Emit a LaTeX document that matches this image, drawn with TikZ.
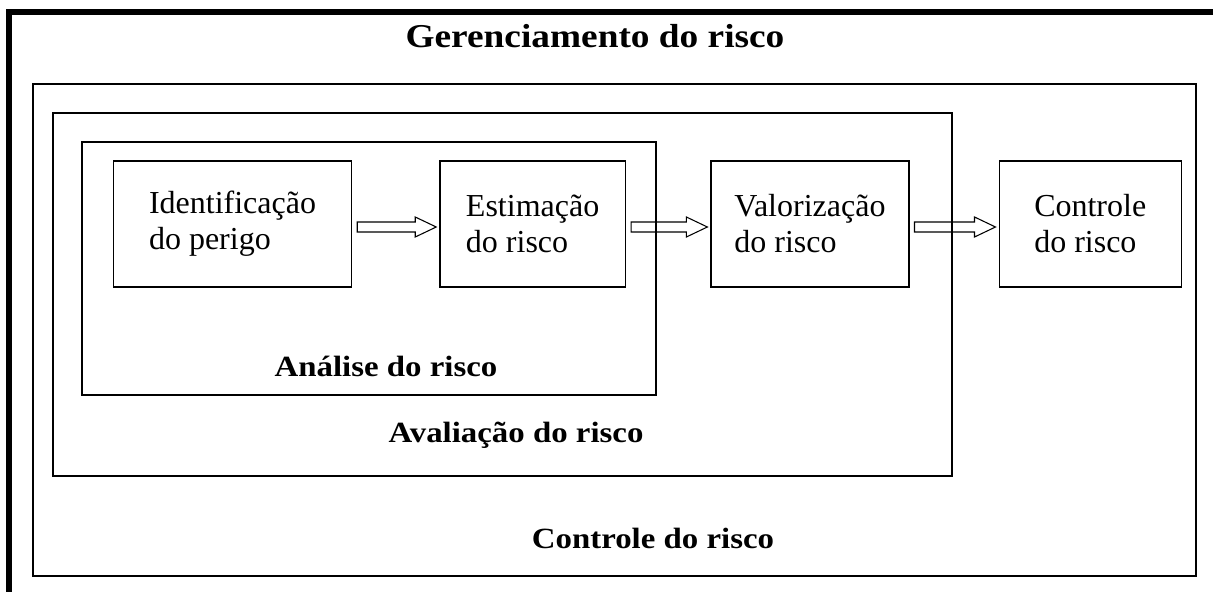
\documentclass[tikz,border=0pt]{standalone}
\usepackage{fontspec}
\setmainfont{Liberation Serif}
\newfontfamily\labelfont[FakeStretch=1.12]{Liberation Serif}
\usepackage{tikz}
\usetikzlibrary{positioning,calc}

\begin{document}
\begin{tikzpicture}[x=0.75pt,y=-0.75pt,line join=miter,
	step box/.style={draw, line width=1.1pt, minimum height=94.5pt, inner sep=0pt, align=left, font=\fontsize{24pt}{27pt}\selectfont},
	region/.style={draw, line width=1.1pt, inner sep=0pt},
	region label/.style={anchor=base, inner sep=0pt, font=\fontsize{22pt}{26pt}\labelfont\bfseries},
	block arrow/.style={draw, line width=0.8pt}]
				\useasboundingbox (0,0) rectangle (1213,592);
				
				% moldura
				\draw[line width=4.5pt] (9,592) -- (9,12) -- (1213,12);
				\node[region label, font=\fontsize{25pt}{28pt}\labelfont\bfseries] (titulo) at (595,48) {Gerenciamento do risco};
				
				% caixas aninhadas
				\node[region, minimum width=872.25pt, minimum height=369pt] (controle) at (614.5,330) {};
				\node[region, minimum width=674.25pt, minimum height=272.25pt] (avaliacao) at (502.5,294.5) {};
				\node[region, minimum width=430.5pt, minimum height=189.75pt] (analise) at (369,268.5) {};
				
				\node[region label] (l analise) at (386,376) {Análise do risco};
				\node[region label] (l avaliacao) at (516,442) {Avaliação do risco};
				\node[region label] (l controle) at (653,548) {Controle do risco};
				
				% etapas
				\node[step box, minimum width=178.5pt] (idp) at (232.5,224) {Identificação\\do perigo};
				\node[step box, minimum width=139pt] (est) [right=65.25pt of idp] {Estimação\\do risco};
				\node[step box, minimum width=148.25pt] (val) [right=63.25pt of est] {Valorização\\do risco};
				\node[step box, minimum width=136.5pt] (ctl) [right=66.75pt of val] {Controle\\do risco};
				
				\foreach \a/\b in {idp/est, est/val, val/ctl}
				\draw[block arrow] let \p1=($(\a.east)+(5,3)$), \p2=($(\b.west)+(-3,3)$) in
				(\x1,\y1+3.75pt) -- (\x2-15.75pt,\y1+3.75pt) -- (\x2-15.75pt,\y1+7.5pt) -- (\x2,\y1)
				-- (\x2-15.75pt,\y1-7.5pt) -- (\x2-15.75pt,\y1-3.75pt) -- (\x1,\y1-3.75pt) -- cycle;
				
\end{tikzpicture}
\end{document}
